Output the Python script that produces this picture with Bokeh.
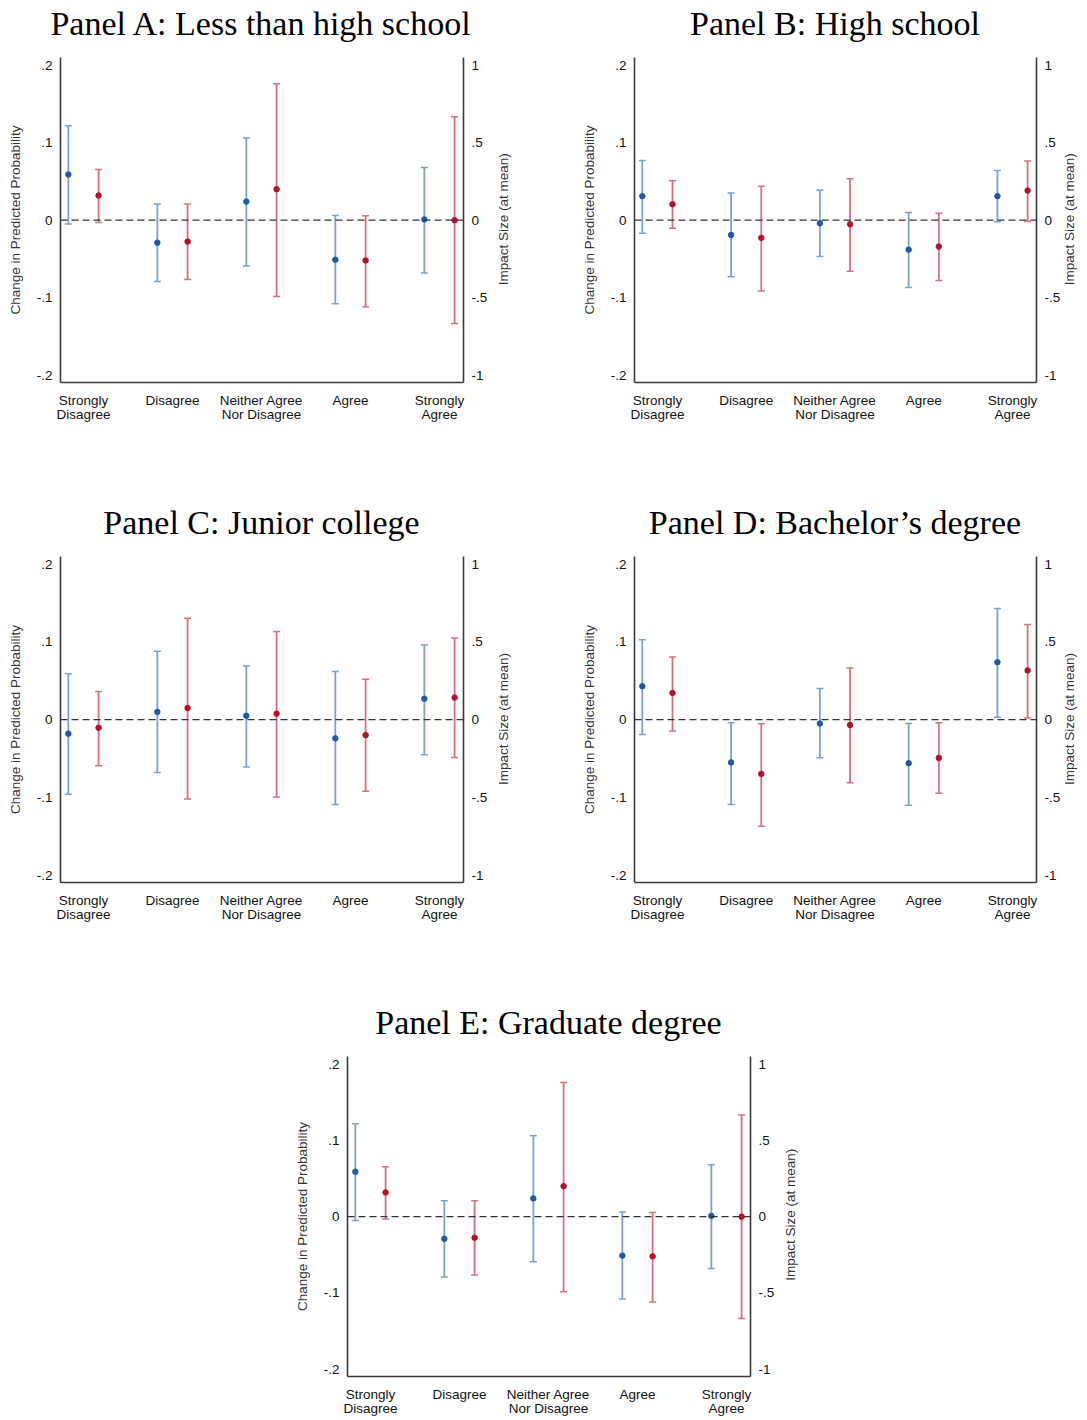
import math
from bokeh.plotting import figure
from bokeh.models import (Range1d, LinearAxis, FixedTicker, Whisker, ColumnDataSource,
                          Span, TeeHead, Spacer)
from bokeh.layouts import column, row
from bokeh.embed import file_html
from bokeh.resources import INLINE

# ---------------- data ----------------
categories = ["Strongly\nDisagree", "Disagree", "Neither Agree\nNor Disagree", "Agree", "Strongly\nAgree"]
cat_pos = [1, 2, 3, 4, 5]
left_ticks = [-0.2, -0.1, 0, 0.1, 0.2]
left_tick_labels = ["-.2", "-.1", "0", ".1", ".2"]
right_ticks = [-1, -0.5, 0, 0.5, 1]
right_tick_labels = ["-1", "-.5", "0", ".5", "1"]

titles = ["Panel A: Less than high school", "Panel B: High school", "Panel C: Junior college",
          "Panel D: Bachelor\u2019s degree", "Panel E: Graduate degree"]
left_title = "Change in Predicted Probability"
right_title = "Impact Size (at mean)"

# Panel A  (blue = change in predicted probability, red = impact size)
a_prob = [0.059, -0.029, 0.024, -0.051, 0.001]
a_prob_hi = [0.122, 0.021, 0.106, 0.006, 0.068]
a_prob_lo = [-0.005, -0.079, -0.059, -0.108, -0.068]
a_imp = [0.159, -0.138, 0.200, -0.260, 0.000]
a_imp_hi = [0.327, 0.105, 0.880, 0.028, 0.667]
a_imp_lo = [-0.015, -0.383, -0.492, -0.559, -0.667]

# Panel B
b_prob = [0.031, -0.019, -0.004, -0.038, 0.031]
b_prob_hi = [0.077, 0.035, 0.039, 0.010, 0.064]
b_prob_lo = [-0.017, -0.073, -0.047, -0.087, -0.002]
b_imp = [0.103, -0.114, -0.026, -0.170, 0.191]
b_imp_hi = [0.255, 0.219, 0.268, 0.045, 0.382]
b_imp_lo = [-0.052, -0.457, -0.330, -0.390, -0.009]

# Panel C
c_prob = [-0.018, 0.010, 0.005, -0.024, 0.027]
c_prob_hi = [0.059, 0.088, 0.069, 0.062, 0.096]
c_prob_lo = [-0.096, -0.068, -0.061, -0.109, -0.045]
c_imp = [-0.052, 0.075, 0.039, -0.099, 0.142]
c_imp_hi = [0.181, 0.653, 0.567, 0.261, 0.526]
c_imp_lo = [-0.297, -0.511, -0.498, -0.461, -0.244]

# Panel D
d_prob = [0.043, -0.055, -0.005, -0.056, 0.074]
d_prob_hi = [0.103, -0.004, 0.040, -0.005, 0.143]
d_prob_lo = [-0.019, -0.109, -0.049, -0.110, 0.003]
d_imp = [0.172, -0.349, -0.034, -0.246, 0.317]
d_imp_hi = [0.403, -0.026, 0.332, -0.019, 0.612]
d_imp_lo = [-0.073, -0.685, -0.405, -0.474, 0.011]

# Panel E
e_prob = [0.059, -0.029, 0.024, -0.051, 0.001]
e_prob_hi = [0.122, 0.021, 0.106, 0.006, 0.068]
e_prob_lo = [-0.005, -0.079, -0.059, -0.108, -0.068]
e_imp = [0.159, -0.138, 0.200, -0.260, 0.000]
e_imp_hi = [0.327, 0.105, 0.880, 0.028, 0.667]
e_imp_lo = [-0.015, -0.383, -0.492, -0.559, -0.667]

# ---------------- style ----------------
BLUE_PT = "#1f5aa6"
BLUE_BAR = "#77a3d4"
RED_PT = "#b3102d"
RED_BAR = "#d9707f"
AXIS_COL = "#3a3a3a"
OFFSET = 0.17
SANS = "Liberation Sans"
FS = "13.5px"
X0, X1 = 0.742, 5.27
Y0, Y1 = -0.2095, 0.21
R0, R1 = -1.0475, 1.05
RT_START = -0.42   # rotated right title starts here so that it is centred on the frame


def bare(ax):
    ax.major_tick_in = 0
    ax.major_tick_out = 0
    ax.minor_tick_in = 0
    ax.minor_tick_out = 0


def make_panel(title, prob, plo, phi, imp, ilo, ihi, width, height, mbl, mbr, mbt, mbb,
               rt_standoff):
    p = figure(width=width, height=height, output_backend="svg", toolbar_location=None,
               x_range=Range1d(X0, X1), y_range=Range1d(Y0, Y1),
               min_border_left=mbl, min_border_right=mbr, min_border_top=mbt,
               min_border_bottom=mbb, background_fill_color="white",
               border_fill_color="white", outline_line_color=None)
    p.xgrid.visible = False
    p.ygrid.visible = False
    p.extra_y_ranges = {"impact": Range1d(R0, R1)}

    xa = p.xaxis[0]
    xa.ticker = FixedTicker(ticks=cat_pos)
    xa.major_label_overrides = {c: lab for c, lab in zip(cat_pos, categories)}
    ya = p.yaxis[0]
    ya.ticker = FixedTicker(ticks=left_ticks)
    ya.major_label_overrides = {t: lab for t, lab in zip(left_ticks, left_tick_labels)}
    ya.axis_label = left_title
    ya.axis_label_standoff = 11

    ra = LinearAxis(y_range_name="impact")
    ra.ticker = FixedTicker(ticks=right_ticks)
    ra.major_label_overrides = {t: lab for t, lab in zip(right_ticks, right_tick_labels)}
    p.add_layout(ra, "right")

    for ax in (xa, ya, ra):
        bare(ax)
        ax.axis_line_color = AXIS_COL
        ax.axis_line_width = 1.6
        ax.major_label_text_font = SANS
        ax.major_label_text_font_size = FS
        ax.major_label_text_color = "#111111"
        ax.axis_label_text_font = SANS
        ax.axis_label_text_font_size = FS
        ax.axis_label_text_font_style = "normal"
        ax.axis_label_text_color = "#333333"
        ax.major_label_standoff = 8
    xa.major_label_standoff = 10
    xa.major_label_text_line_height = 0.95

    # right-hand axis title, reading bottom-to-top (as a single rotated label)
    rt = LinearAxis(y_range_name="impact", ticker=FixedTicker(ticks=[RT_START]),
                    major_label_overrides={RT_START: right_title})
    bare(rt)
    rt.axis_line_color = None
    rt.major_label_orientation = math.pi / 2
    rt.major_label_standoff = rt_standoff
    rt.major_label_text_font = SANS
    rt.major_label_text_font_size = FS
    rt.major_label_text_color = "#333333"
    p.add_layout(rt, "right")

    # panel title, centred over the plot frame
    ta = LinearAxis(ticker=FixedTicker(ticks=[3]), major_label_overrides={3: title})
    bare(ta)
    ta.axis_line_color = None
    ta.major_label_standoff = 16
    ta.major_label_text_font = "Liberation Serif"
    ta.major_label_text_font_size = "34px"
    ta.major_label_text_color = "black"
    p.add_layout(ta, "above")

    p.add_layout(Span(location=0, dimension="width", line_color="#333333",
                      line_width=1.2, line_dash="7 4"))

    bx = [c - OFFSET for c in cat_pos]
    rx = [c + OFFSET for c in cat_pos]
    bsrc = ColumnDataSource(dict(x=bx, y=prob, lo=plo, hi=phi))
    rsrc = ColumnDataSource(dict(x=rx, y=imp, lo=ilo, hi=ihi))

    p.add_layout(Whisker(source=bsrc, base="x", upper="hi", lower="lo",
                         line_color=BLUE_BAR, line_width=1.8,
                         upper_head=TeeHead(size=7, line_color=BLUE_BAR, line_width=1.5),
                         lower_head=TeeHead(size=7, line_color=BLUE_BAR, line_width=1.5)))
    p.add_layout(Whisker(source=rsrc, base="x", upper="hi", lower="lo", y_range_name="impact",
                         line_color=RED_BAR, line_width=1.8,
                         upper_head=TeeHead(size=7, line_color=RED_BAR, line_width=1.5),
                         lower_head=TeeHead(size=7, line_color=RED_BAR, line_width=1.5)))
    p.scatter("x", "y", source=bsrc, marker="circle", size=5.5, color=BLUE_PT)
    p.scatter("x", "y", source=rsrc, marker="circle", size=5.5, color=RED_PT, y_range_name="impact")
    return p


pA = make_panel(titles[0], a_prob, a_prob_lo, a_prob_hi, a_imp, a_imp_lo, a_imp_hi,
                575, 500, 60, 112, 57, 118, 13)
pB = make_panel(titles[1], b_prob, b_prob_lo, b_prob_hi, b_imp, b_imp_lo, b_imp_hi,
                512, 500, 59, 50, 57, 118, 6)
pC = make_panel(titles[2], c_prob, c_prob_lo, c_prob_hi, c_imp, c_imp_lo, c_imp_hi,
                575, 500, 60, 112, 56, 118, 13)
pD = make_panel(titles[3], d_prob, d_prob_lo, d_prob_hi, d_imp, d_imp_lo, d_imp_hi,
                512, 500, 59, 50, 56, 118, 6)
pE = make_panel(titles[4], e_prob, e_prob_lo, e_prob_hi, e_imp, e_imp_lo, e_imp_hi,
                575, 418, 60, 112, 55, 37, 13)

layout = column(row(pA, pB), row(pC, pD), row(Spacer(width=287, height=418), pE))

open("out.html", "w").write(file_html(layout, INLINE))
